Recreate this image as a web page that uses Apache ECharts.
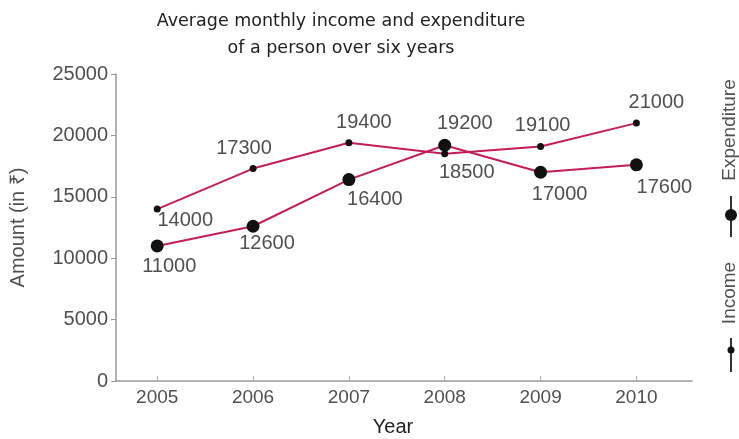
<!DOCTYPE html>
<html><head><meta charset="utf-8">
<script src="https://cdn.jsdelivr.net/npm/echarts@6/dist/echarts.min.js"></script>
<style>html,body{margin:0;padding:0;background:#fff}#c{width:739px;height:439px}</style>
</head><body><div id="c"></div>
<script>
const years = ['2005','2006','2007','2008','2009','2010'];
const income = [14000,17300,19400,18500,19100,21000];
const expenditure = [11000,12600,16400,19200,17000,17600];
const yTicks = [0,5000,10000,15000,20000,25000];

// label placement (style only)
const incomeLabelPos = [['bottom',[28,-7]],['top',[-9,-2]],['top',[15,-2]],['bottom',[22,0]],['top',[2,-2]],['top',[20,-2]]];
const expLabelPos = [['bottom',[12,-1]],['bottom',[14,-4]],['bottom',[26,-2]],['top',[20,0]],['bottom',[19,1]],['bottom',[28,1]]];

const lineColor = '#c51d5c';
const txt = '#505050';
const font = 'Liberation Sans, Arial, sans-serif';

function build(vals, pos){
  return years.map((y,i)=>({
    value:[+y, vals[i]],
    label:{position:pos[i][0], offset:pos[i][1]}
  }));
}

const chart = echarts.init(document.getElementById('c'), null, {renderer:'canvas'});
chart.setOption({
  animation:false,
  backgroundColor:'#fff',
  title:{
    text:'Average monthly income and expenditure\nof a person over six years',
    left:336, top:3, textAlign:'center',
    textStyle:{fontFamily:'DejaVu Sans',fontSize:17.5,fontWeight:'normal',color:'#222',lineHeight:27}
  },
  grid:{left:116,right:47,top:74,bottom:58},
  xAxis:{
    type:'value', min:2004.57, max:2010.58,
    axisLine:{show:true,lineStyle:{color:'#999',width:1.5}},
    axisTick:{show:true,inside:true,length:5,customValues:years.map(Number),lineStyle:{color:'#aaa'}},
    axisLabel:{customValues:years.map(Number),formatter:v=>String(v),color:txt,fontSize:19,fontFamily:font,margin:7},
    splitLine:{show:false}
  },
  yAxis:{
    type:'value', min:0, max:25000, interval:5000,
    name:'Amount (in ₹)', nameLocation:'middle', nameGap:88,
    nameTextStyle:{color:txt,fontSize:20,fontFamily:font},
    axisLine:{show:true,lineStyle:{color:'#999',width:1.5}},
    axisTick:{show:true,length:5,lineStyle:{color:'#999'}},
    axisLabel:{formatter:v=>String(v),color:txt,fontSize:20,fontFamily:font,margin:8},
    splitLine:{show:false}
  },
  series:[
    {name:'Income',type:'line',data:build(income,incomeLabelPos),
     symbol:'circle',symbolSize:7,
     itemStyle:{color:'#111'},lineStyle:{color:lineColor,width:2},
     label:{show:true,formatter:p=>String(p.value[1]),color:txt,fontSize:20,fontFamily:font},
     z:3},
    {name:'Expenditure',type:'line',data:build(expenditure,expLabelPos),
     symbol:'circle',symbolSize:13,
     itemStyle:{color:'#111'},lineStyle:{color:lineColor,width:2},
     label:{show:true,formatter:p=>String(p.value[1]),color:txt,fontSize:20,fontFamily:font},
     z:4}
  ],
  graphic:[
    {type:'text',x:393,y:427,style:{text:'Year',fill:'#222',font:'20px '+font,textAlign:'center',textVerticalAlign:'middle'}},
    {type:'text',x:730,y:130,rotation:Math.PI/2,style:{text:'Expenditure',fill:txt,font:'19px '+font,textAlign:'center',textVerticalAlign:'middle'}},
    {type:'line',shape:{x1:731,y1:196,x2:731,y2:237},style:{stroke:'#333',lineWidth:2}},
    {type:'circle',shape:{cx:731,cy:215,r:6},style:{fill:'#111'}},
    {type:'text',x:730,y:293,rotation:Math.PI/2,style:{text:'Income',fill:txt,font:'19px '+font,textAlign:'center',textVerticalAlign:'middle'}},
    {type:'line',shape:{x1:731,y1:338,x2:731,y2:372},style:{stroke:'#333',lineWidth:2}},
    {type:'circle',shape:{cx:731,cy:350,r:3.5},style:{fill:'#111'}}
  ]
});
</script></body></html>
